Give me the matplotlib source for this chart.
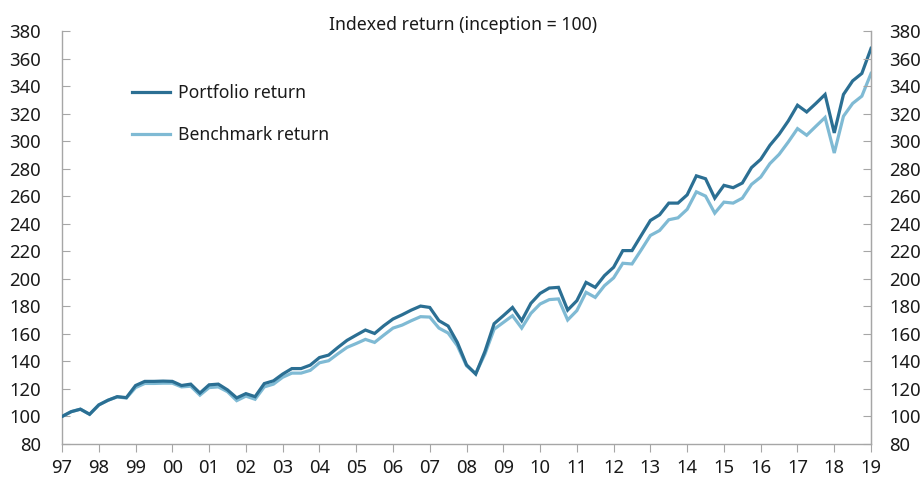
import matplotlib
matplotlib.use("Agg")
import matplotlib.pyplot as plt
import numpy as np

plt.rcParams['font.family'] = ['Noto Sans', 'DejaVu Sans']

title = "Indexed return (inception = 100)"
year_labels = ["97", "98", "99", "00", "01", "02", "03", "04", "05", "06", "07",
               "08", "09", "10", "11", "12", "13", "14", "15", "16", "17", "18", "19"]

# quarterly index values, 1997Q1 .. 2019Q1
portfolio = [100, 103.5, 105.3, 101.6, 108.4, 111.8, 114.4, 113.7,
             122.5, 125.5, 125.5, 125.7, 125.5, 122.5, 123.5, 117.0,
             123.0, 123.5, 119.3, 113.5, 116.6, 114.4, 123.9, 125.9,
             130.8, 134.8, 134.8, 137.3, 142.8, 144.6, 150.1, 155.3,
             159.1, 162.8, 160.3, 165.9, 170.8, 173.9, 177.3, 180.2,
             179.2, 169.6, 165.7, 153.8, 137.5, 130.8, 147.2, 167.4,
             173.2, 179.2, 169.6, 182.2, 189.4, 193.3, 193.8, 177.3,
             184.1, 197.4, 193.8, 202.3, 208.4, 220.5, 220.5, 231.5,
             242.4, 246.5, 255.0, 255.0, 261.0, 274.8, 272.7, 258.6,
             267.9, 266.2, 269.6, 280.8, 286.8, 297.0, 305.0, 314.7,
             326.1, 321.2, 327.4, 333.9, 306.0, 333.9, 343.8, 349.2,
             367.4]
benchmark = [100, 103.5, 105.3, 101.6, 108.4, 111.8, 114.2, 113.4,
             121.0, 124.0, 124.0, 124.2, 124.2, 121.5, 122.0, 115.5,
             121.0, 121.5, 118.0, 111.5, 114.8, 112.5, 121.5, 123.5,
             128.5, 131.5, 131.5, 133.5, 139.0, 140.5, 145.5, 150.2,
             153.0, 156.0, 153.8, 159.1, 164.2, 166.4, 169.6, 172.5,
             172.2, 164.2, 160.6, 151.4, 136.8, 131.2, 145.3, 163.4,
             168.3, 173.2, 164.2, 174.9, 181.7, 184.9, 185.4, 170.1,
             176.9, 190.2, 186.5, 195.0, 200.7, 211.3, 210.8, 221.0,
             231.5, 235.1, 242.9, 244.3, 250.5, 263.2, 260.1, 247.7,
             255.7, 255.0, 258.6, 268.6, 273.9, 283.7, 290.4, 299.4,
             309.1, 304.3, 310.8, 317.2, 291.4, 318.1, 327.4, 332.7,
             349.2]
series_names = ["Portfolio return", "Benchmark return"]

x = 1997 + np.arange(len(portfolio)) / 4.0
years = 1997 + np.arange(len(year_labels))

fig = plt.figure(figsize=(9.23, 4.78), dpi=100)
ax = fig.add_axes([0.0672, 0.0711, 0.8765, 0.864])

c_port = "#2b6f93"
c_bench = "#7fbad4"
ax.plot(x, portfolio, color=c_port, lw=2.3, label=series_names[0], zorder=3,
        solid_joinstyle='miter')
ax.plot(x, benchmark, color=c_bench, lw=2.3, label=series_names[1], zorder=2,
        solid_joinstyle='miter')

ax.set_xlim(1997, 2019)
ax.set_ylim(80, 380)
yt = np.arange(80, 381, 20)
ax.set_yticks(yt)
ax.set_xticks(years)
ax.set_xticklabels(year_labels)

spine_c = "#a6a6a6"
for s in ["left", "right", "bottom"]:
    ax.spines[s].set_color(spine_c)
    ax.spines[s].set_linewidth(1.0)
ax.spines["top"].set_visible(False)

fs = 13.3
ax.tick_params(axis='y', direction='in', length=6, color=spine_c, labelsize=fs,
               pad=15, labelcolor="#1a1a1a")
ax.tick_params(axis='x', direction='out', length=6, color=spine_c, labelsize=fs,
               pad=5, labelcolor="#1a1a1a")

ax2 = ax.twinx()
ax2.set_ylim(80, 380)
ax2.set_yticks(yt)
for s in ["left", "right", "bottom", "top"]:
    ax2.spines[s].set_visible(False)
ax2.spines["right"].set_visible(True)
ax2.spines["right"].set_color(spine_c)
ax2.tick_params(axis='y', direction='in', length=6, color=spine_c, labelsize=fs,
                pad=13, labelcolor="#1a1a1a")

fig.text(0.5015, 1 - 25 / 478, title, ha='center', va='center', fontsize=12.7,
         color="#1a1a1a")

leg = ax.legend(loc='upper left', bbox_to_anchor=(0.067, 0.91), frameon=False,
                fontsize=12.6, handlelength=2.2, handletextpad=0.45, labelspacing=1.4)
for t in leg.get_texts():
    t.set_color("#1a1a1a")

fig.savefig("out.png", dpi=100)
